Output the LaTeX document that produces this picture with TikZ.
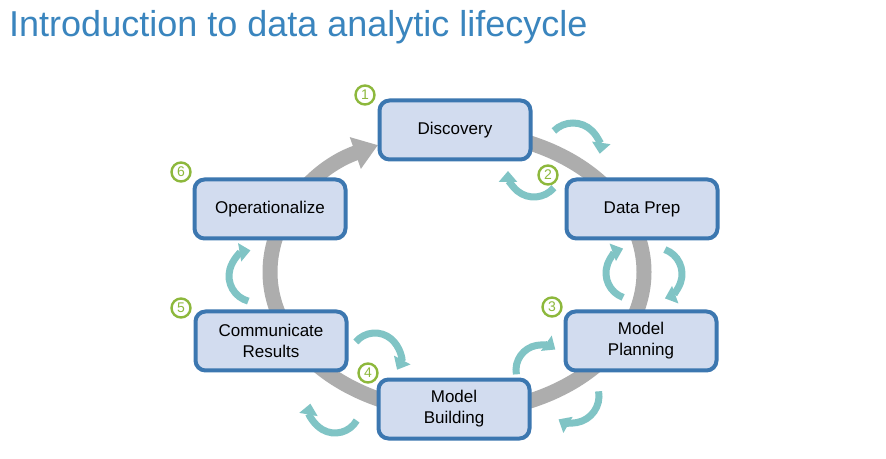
\documentclass[tikz,border=0pt]{standalone}
\usepackage{fontspec}
\setmainfont{Liberation Sans}
\usepackage{tikz}
\usetikzlibrary{arrows.meta}

\definecolor{TitleBlue}{HTML}{3A85BE}
\definecolor{BoxBlue}{HTML}{3C77B0}
\definecolor{BoxFill}{HTML}{D2DCEF}
\definecolor{RingGray}{HTML}{ADADAD}
\definecolor{LoopTeal}{HTML}{80C4C5}
\definecolor{StepGreen}{HTML}{8DB83C}

\tikzset{
  phase/.style={draw=BoxBlue, fill=BoxFill, line width=4pt, rounded corners=10pt,
    minimum width=151pt, minimum height=59pt, align=center,
    font=\fontsize{17}{21}\selectfont},
  stepnum/.style={circle, draw=StepGreen, text=StepGreen, line width=2.4pt,
    minimum size=19pt, inner sep=0pt, font=\fontsize{14}{14}\selectfont},
  turn/.style={LoopTeal, line width=7pt, -{Triangle[width=18pt,length=11pt]}},
  cyclering/.style={RingGray, line width=15pt, -{Triangle[width=32pt,length=24pt]}},
}

\begin{document}
\begin{tikzpicture}[x=1pt,y=1pt]
    \useasboundingbox[fill=white] (0,0) rectangle (886,458);
    \node[anchor=base west, inner sep=0pt, text=TitleBlue, font=\fontsize{36}{40}\selectfont] (title) at (9,421) {Introduction to data analytic lifecycle};

    % big cycle behind the boxes
    \draw[cyclering] (457,186) ++(90:187pt and 140pt) arc[start angle=90, end angle=-245, x radius=187pt, y radius=140pt];

    \node[phase] (disc) at (455,328) {Discovery};
    \node[phase] (prep) at (642,249) {Data Prep};
    \node[phase] (plan) at (641,117) {Model\\Planning};
    \node[phase] (build) at (454,49) {Model\\Building};
    \node[phase] (comm) at (271,117) {Communicate\\Results};
    \node[phase] (oper) at (270,249) {Operationalize};

    \foreach \n/\x/\y in {1/365/363, 2/548/283, 3/552/151, 4/368/85, 5/181/150, 6/181/286}
        \node[stepnum] (num\n) at (\x,\y) {\n};

    % small return loops
    \foreach \cx/\cy/\r/\a/\b in {573/308/27/135/-8, 534/287/26/-40/-180, 632/185/26/250/110,
        656/184/26/70/-70, 541/88/25/190/55, 572/62/27/10/-120, 375/100/25/140/-28,
        335/50/25/-30/-190, 255/182/26/255/100}
        \draw[turn] (\cx,\cy) ++(\a:\r pt) arc[start angle=\a, end angle=\b, radius=\r pt];
\end{tikzpicture}
\end{document}
